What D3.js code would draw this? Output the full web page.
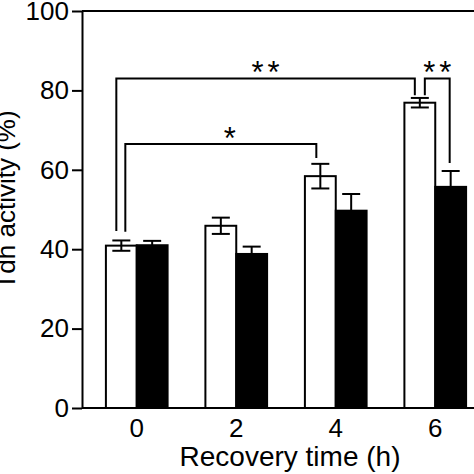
<!DOCTYPE html>
<html>
<head>
<meta charset="utf-8">
<script src="https://cdn.jsdelivr.net/npm/d3@7"></script>
<style>
  html, body { margin: 0; padding: 0; background: #fff; }
  svg { display: block; }
  text { font-family: Arial, "Liberation Sans", Helvetica, sans-serif; fill: #000; }
</style>
</head>
<body>
<svg id="chart" width="474" height="474"></svg>
<script>
// ---- data ----
const groups = ["0", "2", "4", "6"];
const series = ["control", "treated"];
const controlValues = [40.9, 45.9, 58.4, 76.9];
const controlErrors = [1.3, 2.05, 3.1, 1.2];
const treatedValues = [41.0, 38.8, 49.7, 55.7];
const treatedErrors = [1.1, 1.85, 4.2, 4.0];
const yTicks = [0, 20, 40, 60, 80, 100];
const xTitle = "Recovery time (h)";
const yTitle = "Tdh activity (%)";
// significance brackets
const bracketFrom = [["0", "control"], ["0", "control"], ["6", "control"]];
const bracketTo = [["6", "control"], ["4", "control"], ["6", "treated"]];
const bracketLevel = [83, 66.5, 83];
const bracketFromDrop = [44.6, 44.4, 78.8];
const bracketToDrop = [78.8, 63.0, 61.7];
const bracketLabel = ["**", "*", "**"];

// ---- layout ----
const W = 474, H = 474;
const axisX = 82;
const svg = d3.select("#chart");

const y = d3.scaleLinear().domain([0, 100]).range([408, 11]);
const x = d3.scaleBand().domain(groups).range([87, 485]).paddingInner(0.38).paddingOuter(0.19);
const xs = d3.scaleBand().domain(series).range([0, x.bandwidth()]);
const fills = { control: "#fff", treated: "#000" };
const values = { control: controlValues, treated: treatedValues };
const errors = { control: controlErrors, treated: treatedErrors };

const rows = [];
groups.forEach((g, i) => series.forEach(s => rows.push({ g, s, v: values[s][i], e: errors[s][i] })));
const cx = (g, s) => x(g) + xs(s) + xs.bandwidth() / 2;

// bars
svg.append("g").selectAll("rect").data(rows).join("rect")
  .attr("x", d => x(d.g) + xs(d.s))
  .attr("y", d => y(d.v))
  .attr("width", xs.bandwidth())
  .attr("height", d => y(0) - y(d.v))
  .attr("fill", d => fills[d.s])
  .attr("stroke", "#000")
  .attr("stroke-width", 2);

// error bars
const capW = 9;
const eb = svg.append("g").attr("stroke", "#000").attr("stroke-width", 2);
rows.forEach(d => {
  const c = cx(d.g, d.s);
  eb.append("line").attr("x1", c).attr("x2", c).attr("y1", y(d.v + d.e)).attr("y2", y(d.v - d.e));
  eb.append("line").attr("x1", c - capW).attr("x2", c + capW).attr("y1", y(d.v + d.e)).attr("y2", y(d.v + d.e));
  eb.append("line").attr("x1", c - capW).attr("x2", c + capW).attr("y1", y(d.v - d.e)).attr("y2", y(d.v - d.e));
});

// axes
const yAxis = svg.append("g").attr("transform", `translate(${axisX},0)`)
  .call(d3.axisLeft(y).tickValues(yTicks).tickSize(10).tickSizeOuter(0).tickPadding(3));
yAxis.select(".domain").attr("stroke-width", 2);
yAxis.selectAll(".tick line").attr("stroke-width", 2);
yAxis.selectAll(".tick text").style("font-size", "26px").attr("font-family", null);

const xAxis = svg.append("g").attr("transform", `translate(0,${y(0)})`)
  .call(d3.axisBottom(x).tickSize(0).tickPadding(11));
xAxis.select(".domain").remove();
xAxis.selectAll(".tick text").style("font-size", "26px").attr("font-family", null);

svg.append("line").attr("x1", axisX).attr("x2", W).attr("y1", y(0)).attr("y2", y(0))
  .attr("stroke", "#000").attr("stroke-width", 2);
svg.append("line").attr("x1", axisX).attr("x2", W).attr("y1", y(100)).attr("y2", y(100))
  .attr("stroke", "#000").attr("stroke-width", 2);

// brackets
const bOffFrom = [-5, 4, 5];
const bOffTo = [-5, -4, -1];
const bOffText = [0, 9, 0];
const ls = 4;
const bg = svg.append("g");
bracketLabel.forEach((lab, i) => {
  const x1 = cx(...bracketFrom[i]) + bOffFrom[i];
  const x2 = cx(...bracketTo[i]) + bOffTo[i];
  const yl = y(bracketLevel[i]);
  bg.append("path")
    .attr("d", `M${x1},${y(bracketFromDrop[i])}V${yl}H${x2}V${y(bracketToDrop[i])}`)
    .attr("fill", "none").attr("stroke", "#000").attr("stroke-width", 2);
  bg.append("text")
    .attr("x", (x1 + x2) / 2 + bOffText[i] + ls / 2)
    .attr("y", yl + 5)
    .attr("text-anchor", "middle")
    .style("font-size", "31px")
    .style("letter-spacing", ls + "px")
    .text(lab);
});

// titles
svg.append("text").attr("x", 290).attr("y", 466).attr("text-anchor", "middle")
  .style("font-size", "28px").text(xTitle);
svg.append("text").attr("transform", "translate(15,200) rotate(-90)").attr("text-anchor", "middle")
  .style("font-size", "26px").text(yTitle);
</script>
</body>
</html>
